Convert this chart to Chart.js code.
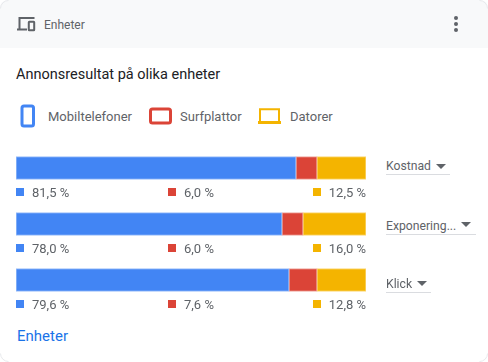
<!doctype html>
<html lang="sv">
<head>
    <meta charset="utf-8">
    <title>Enheter</title>
    <script src="https://cdn.jsdelivr.net/npm/chart.js"></script>
    <style>
        html, body { margin: 0; padding: 0; background: #fff; }
        body { width: 488px; height: 362px; position: relative; overflow: hidden; font-family: Roboto, sans-serif; color: #5f6368; }
        .head { position: absolute; left: 0; top: 0; width: 488px; height: 48px; background: #f8f9fa; border-radius: 8px 8px 0 0; }
        .txt { position: absolute; white-space: nowrap; line-height: 16px; }
        .sq { position: absolute; width: 8px; height: 8px; }
        .line { position: absolute; height: 1px; background: #dadce0; }
        .tri { position: absolute; width: 0; height: 0; border-left: 5px solid transparent; border-right: 5px solid transparent; border-top: 5px solid #5f6368; }
        .dot { position: absolute; left: 454px; width: 4px; height: 4px; border-radius: 50%; background: #5f6368; }
        svg { position: absolute; }
        canvas { position: absolute; left: 16px; top: 140px; }
    </style>
</head>
<body>
    <div class="head"></div>
    <svg style="left:0;top:0" width="488" height="362" fill="none" stroke="#e8eaed">
        <path d="M0.5 8.5A8 8 0 0 1 8.5 0.5M479.5 0.5A8 8 0 0 1 487.5 8.5M487.5 353.5A8 8 0 0 1 479.5 361.5M8.5 361.5A8 8 0 0 1 0.5 353.5"/>
    </svg>
    <svg style="left:16px;top:15px" width="20" height="18" viewBox="0 0 20 18" fill="none" stroke="#5f6368" stroke-width="2">
        <path d="M3.5 14V3h15M1 14.5h10"/>
        <rect x="12.8" y="6.8" width="5.4" height="8.4" rx="0.5"/>
    </svg>
    <div class="txt" style="left:44px;top:17px;font-size:12px">Enheter</div>
    <div class="dot" style="top:16px"></div>
    <div class="dot" style="top:22px"></div>
    <div class="dot" style="top:28px"></div>
    <div class="txt" style="left:16px;top:67px;font-size:14.5px;color:#202124">Annonsresultat på olika enheter</div>

    <svg style="left:20px;top:104px" width="16" height="24"><rect x="2" y="2" width="11.5" height="20" rx="2" fill="none" stroke="#4285f4" stroke-width="3"/></svg>
    <svg style="left:148px;top:107px" width="24" height="20"><rect x="2.5" y="2" width="20" height="14" rx="2" fill="none" stroke="#db4437" stroke-width="3"/></svg>
    <svg style="left:257px;top:107px" width="26" height="20"><path d="M3 14V2.2h19V14" fill="none" stroke="#f4b400" stroke-width="2"/><path d="M1 15.5h23" stroke="#f4b400" stroke-width="3"/></svg>

    <canvas id="devices" width="350" height="168"></canvas>
    <div id="labels"></div>

    <div class="txt" style="left:17px;top:328px;font-size:15px;color:#1a73e8">Enheter</div>

    <script>
        const metrics = ['Kostnad', 'Exponering...', 'Klick'];
        const devices = ['Mobiltelefoner', 'Surfplattor', 'Datorer'];
        const colors = ['#4285f4', '#db4437', '#f4b400'];

        // widths as drawn in the picture (they snap to 2 % steps, the labels don't)
        const mobileBar = [80, 76, 78];
        const tabletBar = [6, 6, 8];
        const desktopBar = [14, 18, 14];

        // what the labels under the bars say
        const mobileLabels = ['81,5 %', '78,0 %', '79,6 %'];
        const tabletLabels = ['6,0 %', '6,0 %', '7,6 %'];
        const desktopLabels = ['12,5 %', '16,0 %', '12,8 %'];

        const bars = [mobileBar, tabletBar, desktopBar];
        const edges = ['#9dc0fa', '#f0a8a0', '#fbd978'];

        new Chart(document.getElementById('devices'), {
            type: 'bar',
            data: {
                labels: metrics,
                datasets: devices.map((name, i) => ({
                    label: name,
                    data: bars[i],
                    backgroundColor: colors[i],
                    borderColor: edges[i],
                    borderWidth: 1,
                    borderSkipped: false,
                    barThickness: 23
                }))
            },
            options: {
                indexAxis: 'y',
                responsive: false,
                animation: false,
                layout: { padding: 0 },
                plugins: { legend: { display: false }, tooltip: { enabled: false } },
                scales: {
                    x: { stacked: true, min: 0, max: 100, display: false },
                    y: { stacked: true, display: false }
                }
            }
        });

        const add = (cls, style, text) => {
            const el = document.createElement('div');
            el.className = cls;
            el.style.cssText = style;
            if (text) el.textContent = text;
            document.getElementById('labels').appendChild(el);
        };

        // device legend
        const legendX = [48, 180, 290];
        devices.forEach((name, i) => add('txt', `left:${legendX[i]}px;top:109px;font-size:13px`, name));

        // rows under the bars + dropdowns on the right
        const lineEnd = [450, 476, 431];
        const triX = [436, 461, 417];
        const triY = [164, 222, 281];
        const ddY = [158, 218, 276];
        metrics.forEach((m, i) => {
            const y = 184 + i * 56;
            add('sq', `left:16px;top:${y + 3.5}px;background:${colors[0]}`);
            add('txt', `left:32px;top:${y + 1}px;font-size:13px`, mobileLabels[i]);
            add('sq', `left:168px;top:${y + 3.5}px;background:${colors[1]}`);
            add('txt', `left:184px;top:${y + 1}px;font-size:13px`, tabletLabels[i]);
            add('sq', `left:313px;top:${y + 3.5}px;background:${colors[2]}`);
            add('txt', `right:122px;top:${y + 1}px;font-size:13px`, desktopLabels[i]);

            add('txt', `left:386px;top:${ddY[i]}px;font-size:12.2px`, m);
            add('tri', `left:${triX[i]}px;top:${triY[i]}px`);
            add('line', `left:386px;top:${ddY[i] + 16}px;width:${lineEnd[i] - 386}px`);
        });
    </script>
</body>
</html>
